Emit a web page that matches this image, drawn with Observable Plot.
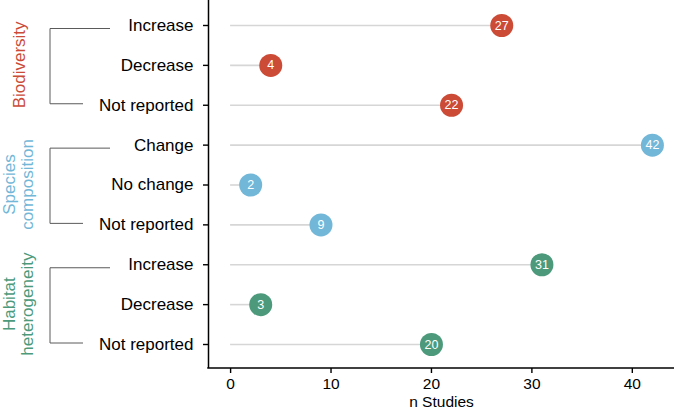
<!DOCTYPE html>
<html><head><meta charset="utf-8">
<script src="https://cdn.jsdelivr.net/npm/d3@7"></script>
<script src="https://cdn.jsdelivr.net/npm/@observablehq/plot@0.6"></script>
<style>body{margin:0;background:#fff;font-family:"Liberation Sans",Arial,sans-serif}</style>
</head><body><div id="chart"></div>
<script>
const groups = ["Biodiversity", "Species composition", "Habitat heterogeneity"];
const groupLines = [["Biodiversity"], ["Species", "composition"], ["Habitat", "heterogeneity"]];
const groupColors = ["#CC4B37", "#72B7D8", "#4C9A7B"];
const outcomes = [["Increase", "Decrease", "Not reported"], ["Change", "No change", "Not reported"], ["Increase", "Decrease", "Not reported"]];
const studies = [[27, 4, 22], [42, 2, 9], [31, 3, 20]];
const xTicks = [0, 10, 20, 30, 40];

const rows = [];
groups.forEach((g, i) => outcomes[i].forEach((o, j) => rows.push({key: g + "|" + o, group: g, outcome: o, n: studies[i][j]})));
const keys = rows.map(d => d.key);

const xMin = -2.2, xMax = 44.2;
const plot = Plot.plot({
  width: 677, height: 410,
  marginLeft: 208, marginRight: 3, marginTop: 0, marginBottom: 42,
  style: {fontFamily: '"Liberation Sans", Arial, sans-serif', color: "#000", background: "white", overflow: "visible"},
  x: {domain: [xMin, xMax]},
  y: {type: "point", domain: keys, range: [25, 344], padding: 0, round: false},
  color: {domain: groups, range: groupColors},
  marks: [
    Plot.ruleY(rows, {y: "key", x1: 0, x2: "n", stroke: "#d6d6d6", strokeWidth: 1.6}),
    Plot.dot(rows, {y: "key", x: "n", r: 11.5, fill: "group"}),
    Plot.text(rows, {y: "key", x: "n", text: d => String(d.n), fill: "white", fontSize: 12.5}),
    Plot.axisY({tickFormat: k => k.split("|")[1], tickSize: 5, tickPadding: 10, fontSize: 17, label: null, strokeWidth: 1.4, color: "#000"}),
    Plot.axisX({ticks: xTicks, tickSize: 5, tickPadding: 4, fontSize: 15.5, label: null, strokeWidth: 1.4, color: "#000"}),
    Plot.ruleX([xMin], {stroke: "#000", strokeWidth: 1.5}),
    Plot.text(["n Studies"], {frameAnchor: "bottom", dy: 34, lineAnchor: "middle", fontSize: 15.5, fill: "#000"})
  ]
});
document.getElementById("chart").appendChild(plot);

const x = plot.scale("x");
const y = plot.scale("y");
const svg = d3.select(plot);
const g = svg.append("g");
g.append("line")
  .attr("x1", x.range[0] - 0.75).attr("x2", x.range[1])
  .attr("y1", 410 - 42).attr("y2", 410 - 42)
  .attr("stroke", "#000").attr("stroke-width", 1.5);
groups.forEach((grp, i) => {
  const top = y.apply(grp + "|" + outcomes[i][0]);
  const mid = y.apply(grp + "|" + outcomes[i][1]);
  const bot = y.apply(grp + "|" + outcomes[i][2]);
  g.append("path")
    .attr("d", `M110,${top + 3.5}H50V${bot - 1}H83`)
    .attr("fill", "none").attr("stroke", "#5a5a5a").attr("stroke-width", 1);
  const lines = groupLines[i];
  const xs = lines.length === 1 ? [25] : [15, 33];
  lines.forEach((t, k) => {
    g.append("text")
      .attr("transform", `translate(${xs[k]},${mid}) rotate(-90)`)
      .attr("text-anchor", "middle")
      .attr("fill", groupColors[i])
      .attr("font-size", 17)
      .text(t);
  });
});
</script></body></html>
